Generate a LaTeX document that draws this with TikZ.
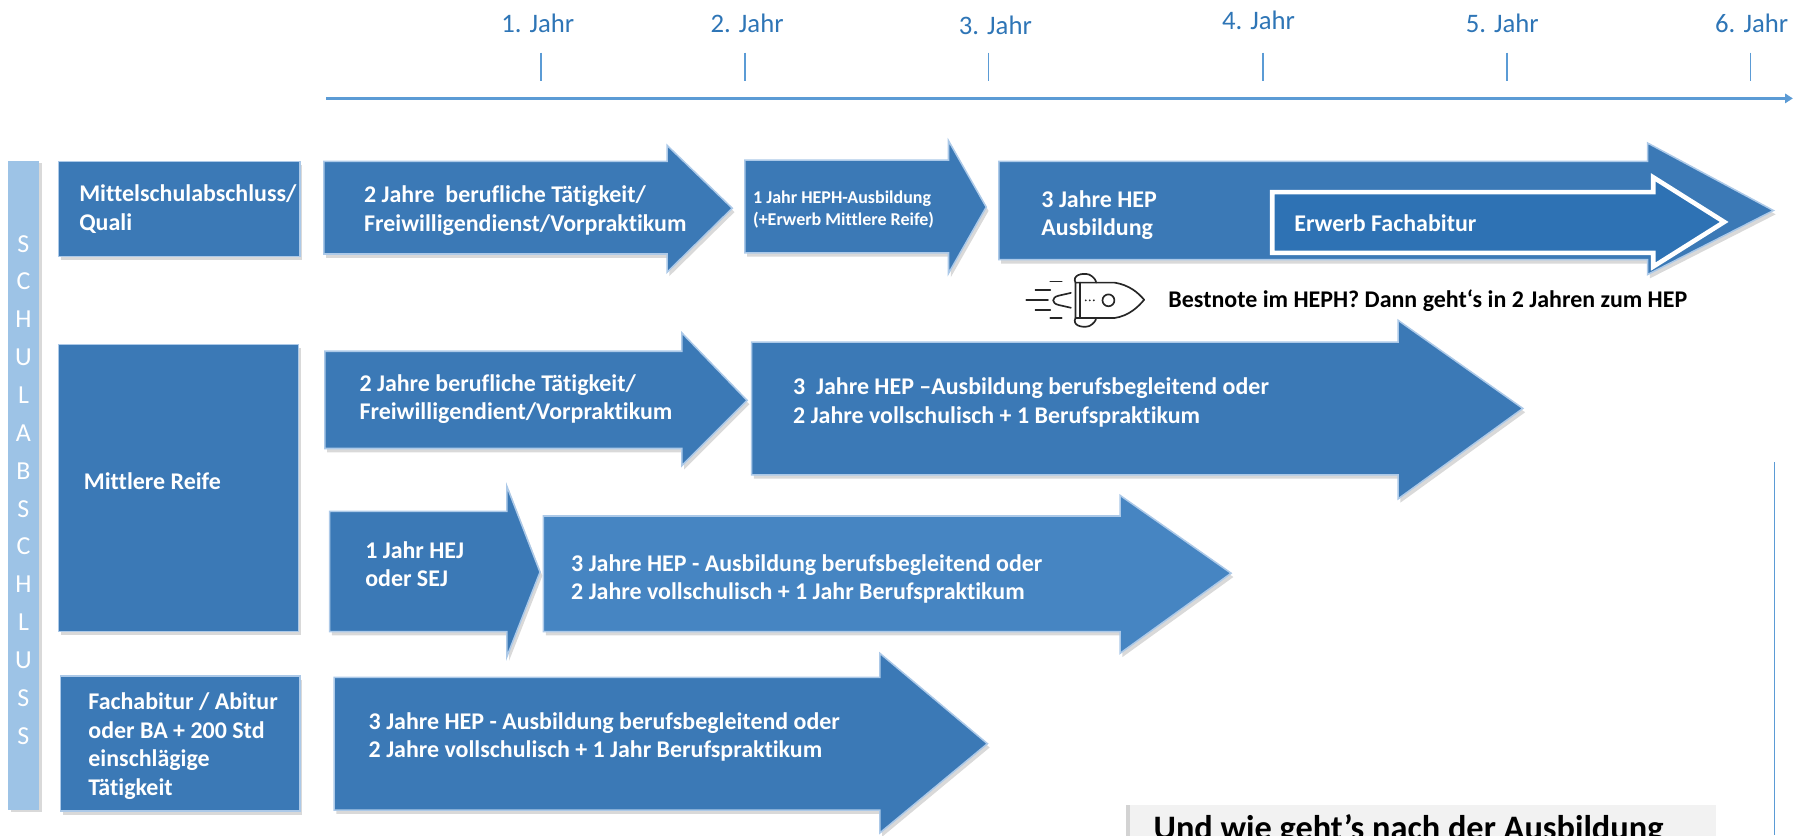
\documentclass[tikz,border=0pt]{standalone}
\usepackage{fontspec}
\setmainfont{Carlito}[Ligatures=NoCommon]
\usetikzlibrary{shadows,arrows.meta}
\definecolor{hepblue}{RGB}{59,121,182}
\definecolor{heplight}{RGB}{70,133,194}
\definecolor{hepdark}{RGB}{46,114,180}
\definecolor{hepedge}{RGB}{172,201,232}
\definecolor{axisblue}{RGB}{91,155,213}
\definecolor{jahrblue}{RGB}{46,117,182}
\definecolor{barblue}{RGB}{157,195,230}
\definecolor{greybox}{RGB}{242,242,242}
\begin{document}
\begin{tikzpicture}[x=0.75pt,y=0.75pt,yscale=-1,xscale=1,
    pfeil/.style={fill=hepblue,draw=hepedge,line width=1pt,line join=miter,
      drop shadow={shadow xshift=1.5pt,shadow yshift=-2.5pt,opacity=0.3}},
    txt/.style={anchor=west,inner sep=0.75pt,align=left,text=white,
      font=\bfseries\fontsize{15.7}{18.75}\selectfont},
    klein/.style={txt,font=\bfseries\fontsize{11.8}{14.3}\selectfont},
    jahr/.style={anchor=base,inner sep=0.75pt,text=jahrblue,font=\fontsize{17.5}{21}\selectfont},
    rakete/.style={draw=black!85,line width=1.1pt,line cap=round,line join=round}]
    \path[use as bounding box] (0,0) rectangle (1568,730);
    \clip (0,0) rectangle (1568,730);
    %Straight Lines: time axis
    \draw[axisblue,line width=1.9pt,-{Triangle[length=5pt,width=6pt]}] (285,86) -- (1567,86) ;
    \foreach \x/\lx/\ly/\n in {473/470/28/1,651/653/28/2,864/870/30/3,1104/1100/26/4,1317/1313/28/5,1530/1531/28/6}{
      \draw[axisblue,line width=1pt] (\x,46) -- (\x,71) ;
      \node[jahr] (jahr\n) at (\lx,\ly) {\n. Jahr};
    }
    %Shape: Rectangle (left bar)
    \draw[fill=barblue,draw=none,drop shadow={shadow xshift=2pt,shadow yshift=-1pt,opacity=0.3}] (7,141) rectangle (34,708) ;
    \foreach \l [count=\i] in {S,C,H,U,L,A,B,S,C,H,L,U,S,S}
      \node[text=white,inner sep=0pt,font=\fontsize{17}{20}\selectfont] (bar\i) at (20.5,{213+(\i-1)*33.1}) {\l};
    %Shape: Rectangle
    \draw[pfeil] (51,141) rectangle (262,224) ;
    %Shape: Rectangle
    \draw[pfeil] (51,301) rectangle (261,552) ;
    %Shape: Rectangle
    \draw[pfeil] (53,591) rectangle (262,709) ;
    % Text Node
    \node[txt] (quali) at (68,183) {Mittelschulabschluss/\\Quali};
    % Text Node
    \node[txt] (reife) at (72,421) {Mittlere Reife};
    % Text Node
    \node[txt] (abitur) at (76,652) {Fachabitur / Abitur\\oder BA + 200 Std\\einschlägige\\Tätigkeit};
    %Shape: Right Arrow
    \draw[pfeil] (283,141) -- (583,141) -- (583,127) -- (640,182) -- (583,238) -- (583,222) -- (283,222) -- cycle ;
    %Shape: Right Arrow
    \draw[pfeil] (651,140) -- (829,140) -- (829,123) -- (862,181) -- (829,239) -- (829,221) -- (651,221) -- cycle ;
    %Shape: Right Arrow
    \draw[pfeil] (873,141) -- (1440,141) -- (1440,125) -- (1550,184) -- (1440,240) -- (1440,227) -- (873,227) -- cycle ;
    %Shape: Right Arrow (inner)
    \draw[fill=hepdark,draw=white,line width=3pt,line join=miter] (1112,168) -- (1445,168) -- (1445,155) -- (1507,194) -- (1445,233) -- (1445,221) -- (1112,221) -- cycle ;
    %Shape: Right Arrow
    \draw[pfeil] (284,307) -- (596,307) -- (596,291) -- (653,350) -- (596,407) -- (596,392) -- (284,392) -- cycle ;
    %Shape: Right Arrow
    \draw[pfeil] (657,299) -- (1222,299) -- (1222,280) -- (1331,357) -- (1222,436) -- (1222,415) -- (657,415) -- cycle ;
    %Shape: Right Arrow
    \draw[pfeil] (288,447) -- (443,447) -- (443,425) -- (472,500) -- (443,574) -- (443,552) -- (288,552) -- cycle ;
    %Shape: Right Arrow
    \draw[pfeil,fill=heplight] (475,451) -- (979,451) -- (979,433) -- (1076,501) -- (979,571) -- (979,552) -- (475,552) -- cycle ;
    %Shape: Right Arrow
    \draw[pfeil] (292,592) -- (769,592) -- (769,571) -- (863,650) -- (769,728) -- (769,708) -- (292,708) -- cycle ;
    % Text Node
    \node[txt] (a1) at (317,184) {2 Jahre\ \ berufliche Tätigkeit/\\Freiwilligendienst/Vorpraktikum};
    % Text Node
    \node[klein] (a2) at (657,183) {1 Jahr HEPH-Ausbildung\\(+Erwerb Mittlere Reife)};
    % Text Node
    \node[txt] (a3) at (909,188) {3 Jahre HEP\\Ausbildung};
    % Text Node
    \node[txt] (a3i) at (1130,195) {Erwerb Fachabitur};
    % Text Node
    \node[txt] (b1) at (313,349) {2 Jahre berufliche Tätigkeit/\\Freiwilligendient/Vorpraktikum};
    % Text Node
    \node[txt] (b2) at (692,352) {3\ \ Jahre HEP –Ausbildung berufsbegleitend oder\\2 Jahre vollschulisch + 1 Berufspraktikum};
    % Text Node
    \node[txt] (c1) at (318,493) {1 Jahr HEJ\\oder SEJ};
    % Text Node
    \node[txt] (c2) at (498,506) {3 Jahre HEP - Ausbildung berufsbegleitend oder\\2 Jahre vollschulisch + 1 Jahr Berufspraktikum};
    % Text Node
    \node[txt] (d1) at (321,644) {3 Jahre HEP - Ausbildung berufsbegleitend oder\\2 Jahre vollschulisch + 1 Jahr Berufspraktikum};
    %Rocket icon
    \draw[rakete] (918,246) -- (928,246) (905,253.5) -- (918,253.5) (897,262) -- (916,262) (905,271) -- (918,271) (918,278) -- (928,278) ;
    \draw[rakete] (936,256) -- (925,258.5) .. controls (919,260) and (919,265) .. (925,266.5) -- (936,269) ;
    \draw[rakete] (940,247) -- (974,247) .. controls (987,249) and (995,256) .. (1000,262) .. controls (995,268) and (987,276) .. (974,278) -- (940,278) -- cycle ;
    \draw[rakete] (944,247) -- (944,278) ;
    \draw[rakete] (940,247) .. controls (937,241) and (945,238) .. (952,240) .. controls (956,242) and (958,245) .. (958,247) ;
    \draw[rakete] (940,278) .. controls (937,284) and (945,287) .. (952,285) .. controls (956,283) and (958,280) .. (958,278) ;
    \draw[rakete] (968.8,262.5) circle (5.2) ;
    \foreach \x in {949,952.5,956} \fill[black!85] (\x,262.5) circle (0.9) ;
    % Text Node
    \node[txt,text=black] (bestnote) at (1020,263) {Bestnote im HEPH? Dann geht‘s in 2 Jahren zum HEP};
    %Straight Lines
    \draw[axisblue,line width=1pt] (1551,404) -- (1551,730) ;
    %Shape: Rectangle (bottom)
    \draw[fill=greybox,draw=none,drop shadow={shadow xshift=-3pt,shadow yshift=0pt,opacity=0.35}] (988,704) rectangle (1500,770) ;
    % Text Node
    \node[anchor=base west,inner sep=0.75pt,font=\bfseries\fontsize{22.5}{27}\selectfont] (und) at (1007,734) {Und wie geht’s nach der Ausbildung};
\end{tikzpicture}
\end{document}
